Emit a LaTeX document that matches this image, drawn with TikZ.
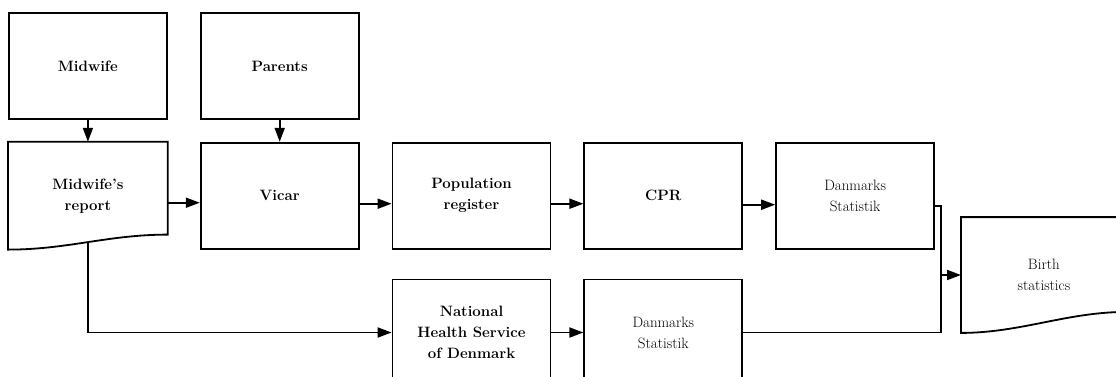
\documentclass[tikz,border=0pt]{standalone}
\usetikzlibrary{positioning, arrows.meta}

\tikzset{
  box/.style={draw, line width=1.8pt, minimum width=158pt, minimum height=106pt,
    inner sep=0pt, align=center, font=\fontsize{15}{21}\selectfont\bfseries},
  plainbox/.style={box, font=\fontsize{15}{21}\selectfont},
  docbox/.style={box, draw=none},
  line/.style={line width=1.8pt},
  flow/.style={line, -{Triangle[length=14pt, width=10pt]}}
}

\begin{document}
\begin{tikzpicture}
			[x=1pt, y=1pt, node distance=22pt and 32pt]
		\useasboundingbox (0,0) rectangle (1116,-376);
		% nodes %
		\node[box, anchor=north west] (midwife) at (8,-12) {Midwife};
		\node[box, right=of midwife] (parents) {Parents};
		\node[docbox, below=of midwife] (report) {Midwife's\\report};
		\node[box, below=of parents] (vicar) {Vicar};
		\node[box, right=of vicar] (popreg) {Population\\register};
		\node[box, right=of popreg] (cpr) {CPR};
		\node[plainbox, right=of cpr] (dstop) {Danmarks\\Statistik};
		\node[box, below=29pt of popreg] (nhs) {National\\Health Service\\of Denmark};
		\node[plainbox, right=of nhs] (dsbottom) {Danmarks\\Statistik};
		\node[plainbox, draw=none, minimum width=164pt, minimum height=114pt, anchor=west] (birth) at (961,-275) {Birth\\statistics};
		\coordinate[left=20pt of birth.west] (join);

		% document outlines %
		\draw[line] (report.north west) -- (report.north east) -- ([yshift=15pt]report.south east)
			.. controls +(-60,0) and +(60,0) .. (report.south west) coordinate[pos=0.5] (reportfoot) -- cycle;
		\draw[line] (birth.north west) -- (birth.north east) -- ([yshift=21pt]birth.south east)
			.. controls +(-60,0) and +(60,0) .. (birth.south west) -- cycle;

		% edges %
		\draw[flow] (midwife.south) -- (report.north);
		\draw[flow] (parents.south) -- (vicar.north);
		\draw[flow] ([yshift=-7pt]report.east) -- ([yshift=-7pt]vicar.west);
		\draw[flow] ([yshift=-8pt]vicar.east) -- ([yshift=-8pt]popreg.west);
		\draw[flow] ([yshift=-8pt]popreg.east) -- ([yshift=-8pt]cpr.west);
		\draw[flow] ([yshift=-9pt]cpr.east) -- ([yshift=-9pt]dstop.west);
		\draw[flow] (reportfoot) |- (nhs.west);
		\draw[flow] (nhs) -- (dsbottom);
		\draw[line] ([yshift=-10pt]dstop.east) -| (join) |- (dsbottom.east);
		\draw[flow] (join) -- (birth.west);
		\end{tikzpicture}
\end{document}
